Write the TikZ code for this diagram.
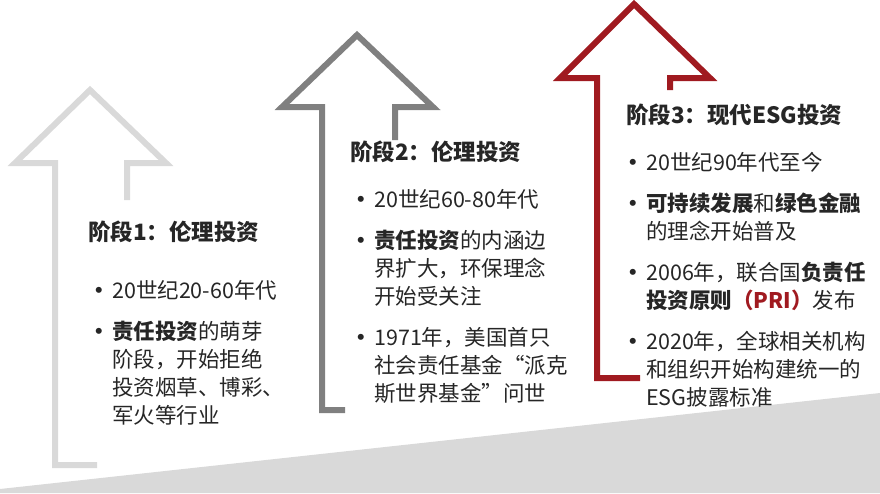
\documentclass[tikz,border=0pt]{standalone}
\usepackage{fontspec}
\setmainfont{Noto Sans CJK SC}
\definecolor{arrowlight}{HTML}{D9D9D9}
\definecolor{arrowmid}{HTML}{808080}
\definecolor{arrowred}{HTML}{A01A20}
\definecolor{txt}{HTML}{262626}
\newcommand\itm[1]{\par\hangindent=24pt\hangafter=1\noindent\makebox[24pt][l]{\textbf{•}}#1\par\vspace{13pt}}
\tikzset{
    stagearrow/.style = {
        line width=6pt,
        line join=miter,
    },
    title/.style = {
        anchor=base west,
        inner sep=0pt,
        font=\fontsize{22.5}{26}\selectfont\bfseries,
        text=txt
    },
    points/.style = {
        anchor=north west,
        inner sep=0pt,
        text width=#1,
        align=left,
        font=\fontsize{21.5}{28}\selectfont,
        text=txt
    }
}
\begin{document}
\begin{tikzpicture}[x=1pt,y=-1pt]
    \useasboundingbox (0,0) rectangle (880,493);

    % Ground
    \fill[arrowlight] (0,489) -- (880,393) -- (880,493) -- (0,493) -- cycle;

    % Draw arrows
    \draw[stagearrow, arrowlight] (97,465) -- (55,465) -- (55,163) -- (15,163)
        -- (90,90) -- (166,163) -- (127,163) -- (127,200);
    \draw[stagearrow, arrowmid] (345,410) -- (322,410) -- (322,107) -- (282,107)
        -- (357,35) -- (433,107) -- (395,107) -- (395,140);
    \draw[stagearrow, arrowred] (640,378) -- (597,378) -- (597,78) -- (560,78)
        -- (634,4) -- (710,78) -- (670,78) -- (670,90);

    % Stage 1
    \node[title] (s1) at (88,240) {阶段1：伦理投资};
    \node[points=200pt] (l1) at (88,270) {%
        \itm{20世纪20-60年代}%
        \itm{\textbf{责任投资}的萌芽\newline 阶段，开始拒绝\newline 投资烟草、博彩、\newline 军火等行业}};

    % Stage 2
    \node[title] (s2) at (350,160) {阶段2：伦理投资};
    \node[points=210pt] (l2) at (350,179) {%
        \itm{20世纪60-80年代}%
        \itm{\textbf{责任投资}的内涵边\newline 界扩大，环保理念\newline 开始受关注}%
        \itm{1971年，美国首只\newline 社会责任基金“派克\newline 斯世界基金”问世}};

    % Stage 3
    \node[title] (s3) at (626,123) {阶段3：现代ESG投资};
    \node[points=260pt] (l3) at (622,142) {%
        \itm{20世纪90年代至今}%
        \itm{\textbf{可持续发展}和\textbf{绿色金融}\newline 的理念开始普及}%
        \itm{2006年，联合国\textbf{负责任}\newline \textbf{投资原则}\textcolor{arrowred}{\textbf{（PRI）}}发布}%
        \itm{2020年，全球相关机构\newline 和组织开始构建统一的\newline ESG披露标准}};
\end{tikzpicture}
\end{document}
